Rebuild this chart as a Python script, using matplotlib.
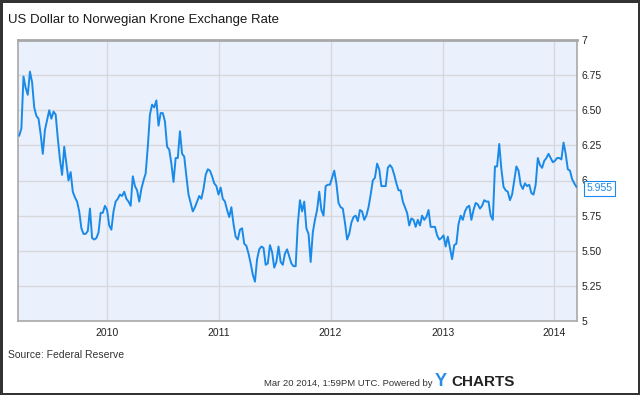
import matplotlib
matplotlib.use('Agg')
import matplotlib.pyplot as plt
import pandas as pd

# weekly USD/NOK values (Mar 2009 - Mar 2014)
rate = [
    6.32, 6.37, 6.74, 6.66, 6.61, 6.775, 6.70, 6.52, 6.46, 6.44,
    6.33, 6.19, 6.36, 6.43, 6.50, 6.44, 6.49, 6.47, 6.30, 6.15,
    6.04, 6.24, 6.12, 6.00, 6.06, 5.92, 5.88, 5.85, 5.78, 5.66,
    5.62, 5.62, 5.64, 5.80, 5.59, 5.58, 5.59, 5.63, 5.77, 5.77,
    5.82, 5.79, 5.68, 5.65, 5.78, 5.85, 5.87, 5.90, 5.89, 5.92,
    5.87, 5.85, 5.82, 6.03, 5.96, 5.93, 5.85, 5.94, 6.00, 6.05,
    6.24, 6.47, 6.54, 6.52, 6.57, 6.39, 6.48, 6.48, 6.42, 6.24,
    6.22, 6.12, 5.99, 6.16, 6.16, 6.35, 6.19, 6.17, 6.03, 5.90,
    5.84, 5.78, 5.81, 5.85, 5.89, 5.87, 5.94, 6.04, 6.08, 6.07,
    6.03, 5.98, 5.96, 5.90, 5.95, 5.87, 5.85, 5.79, 5.74, 5.81,
    5.69, 5.60, 5.58, 5.65, 5.66, 5.55, 5.535, 5.48, 5.41, 5.33,
    5.28, 5.44, 5.51, 5.53, 5.52, 5.40, 5.41, 5.54, 5.49, 5.38,
    5.42, 5.53, 5.42, 5.40, 5.48, 5.51, 5.46, 5.41, 5.39, 5.39,
    5.69, 5.86, 5.78, 5.85, 5.66, 5.62, 5.42, 5.63, 5.72, 5.79,
    5.92, 5.79, 5.75, 5.96, 5.97, 5.97, 6.02, 6.07, 5.98, 5.84,
    5.81, 5.80, 5.70, 5.58, 5.62, 5.70, 5.74, 5.75, 5.71, 5.79,
    5.78, 5.72, 5.75, 5.81, 5.90, 6.00, 6.02, 6.12, 6.08, 5.96,
    5.96, 5.96, 6.09, 6.11, 6.09, 6.04, 5.98, 5.93, 5.93, 5.85,
    5.81, 5.77, 5.68, 5.73, 5.72, 5.67, 5.72, 5.68, 5.75, 5.72,
    5.74, 5.79, 5.67, 5.67, 5.67, 5.61, 5.58, 5.59, 5.61, 5.53,
    5.60, 5.52, 5.44, 5.54, 5.55, 5.69, 5.75, 5.72, 5.78, 5.81,
    5.82, 5.72, 5.79, 5.84, 5.83, 5.80, 5.82, 5.86, 5.85, 5.85,
    5.75, 5.72, 6.10, 6.10, 6.26, 6.08, 5.955, 5.93, 5.92, 5.86,
    5.90, 6.00, 6.10, 6.07, 5.97, 5.94, 5.98, 5.96, 5.97, 5.91,
    5.90, 5.97, 6.16, 6.11, 6.09, 6.14, 6.16, 6.19, 6.16, 6.13,
    6.14, 6.16, 6.16, 6.15, 6.27, 6.19, 6.08, 6.07, 6.01, 5.98,
    5.955,
]
dates = pd.date_range('2009-03-20', periods=len(rate), freq='7D')

y_ticks = [5, 5.25, 5.5, 5.75, 6, 6.25, 6.5, 6.75, 7]
y_labels = ['5', '5.25', '5.50', '5.75', '6', '6.25', '6.50', '6.75', '7']
years = [2010, 2011, 2012, 2013, 2014]

plt.rcParams['font.family'] = ['Liberation Sans', 'DejaVu Sans']

fig = plt.figure(figsize=(6.4, 3.95), dpi=100)
fig.patch.set_facecolor('white')
fig.patch.set_edgecolor('#333333')
fig.patch.set_linewidth(2.5)

ax = fig.add_axes([18/640, 1 - 321/395, 559/640, 281/395])
ax.set_facecolor('#eaf0fc')
ax.plot(dates, rate, color='#1a8ae8', lw=1.4, zorder=3)

ax.set_xlim(pd.Timestamp('2009-03-16'), pd.Timestamp('2014-03-16'))
ax.set_ylim(5, 7)
ax.set_yticks(y_ticks)
ax.set_yticklabels(y_labels)
ax.set_xticks([pd.Timestamp(f'{y}-01-01') for y in years])
ax.set_xticklabels([str(y) for y in years])
ax.yaxis.tick_right()
ax.tick_params(axis='both', length=0, labelsize=7.5, colors='#222222')
ax.tick_params(axis='y', pad=3)
ax.tick_params(axis='x', pad=5)
ax.grid(True, color='#d6d8dc', lw=1)
ax.set_axisbelow(True)
for side in ['left', 'right', 'bottom']:
    ax.spines[side].set_color('#a8a8a8')
    ax.spines[side].set_linewidth(1.2)
ax.spines['top'].set_color('#a8a8a8')
ax.spines['top'].set_linewidth(2)

# last value tag
ax.annotate(f'{rate[-1]:.3f}', xy=(dates[-1], rate[-1]), xytext=(7, -1),
            textcoords='offset points', va='center', ha='left', fontsize=7.5,
            color='#1a8ae8', annotation_clip=False, zorder=5,
            bbox=dict(boxstyle='square,pad=0.25', fc='white', ec='#1a8ae8', lw=0.8))

fig.text(8/640, 1 - 20/395, 'US Dollar to Norwegian Krone Exchange Rate',
         fontsize=9.5, va='center', ha='left', color='#1a1a1a')
fig.text(8/640, 1 - 355/395, 'Source: Federal Reserve',
         fontsize=7.5, va='center', ha='left', color='#333333')
fig.text(432/640, 1 - 383/395, 'Mar 20 2014, 1:59PM UTC. Powered by',
         fontsize=6.8, va='center', ha='right', color='#333333')
fig.text(435/640, 1 - 382/395, 'Y', fontsize=13, fontweight='bold',
         va='center', ha='left', color='#2a8ce6')
fig.text(451/640, 1 - 382/395, 'CHARTS', fontsize=11, fontweight='bold',
         va='center', ha='left', color='#222222')

fig.savefig('out.png', dpi=100, facecolor=fig.get_facecolor(),
            edgecolor=fig.get_edgecolor())
